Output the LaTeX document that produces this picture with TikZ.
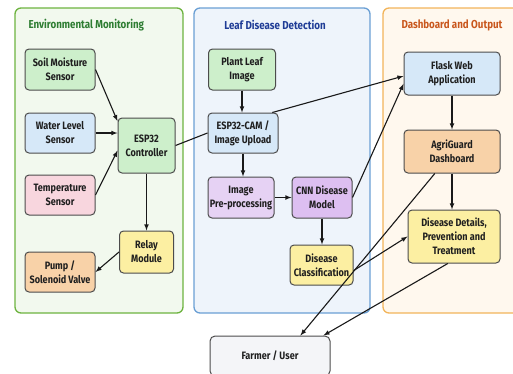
\documentclass[tikz,border=0pt]{standalone}
\usepackage{fontspec}
\setmainfont{Fira Sans}[FakeStretch=0.85]
\usepackage{xcolor}
\usepackage{tikz}
\usetikzlibrary{shapes,arrows,positioning,calc}

\definecolor{envline}{HTML}{6DB33F}
\definecolor{envfill}{HTML}{F2F9EE}
\definecolor{leafline}{HTML}{6A9FD4}
\definecolor{leaffill}{HTML}{EEF4FB}
\definecolor{dashline}{HTML}{F2B45A}
\definecolor{dashfill}{HTML}{FFF8EE}
\definecolor{envtitle}{HTML}{2E7D32}
\definecolor{leaftitle}{HTML}{1F3C96}
\definecolor{dashtitle}{HTML}{C9571D}
\definecolor{greenbox}{HTML}{CDEFCB}
\definecolor{bluebox}{HTML}{D6E8F8}
\definecolor{pinkbox}{HTML}{F8D6DE}
\definecolor{yellowbox}{HTML}{FCEFA2}
\definecolor{orangebox}{HTML}{F8D2A8}
\definecolor{purplebox}{HTML}{E6D2F4}
\definecolor{violetbox}{HTML}{DDBFF1}
\definecolor{userbox}{HTML}{F4F5F8}

\begin{document}
\begin{tikzpicture}[x=1pt, y=-1pt,
    panel/.style={rounded corners=6pt, line width=1.3pt},
    box/.style={draw=black!70, line width=1pt, rounded corners=4pt, align=center,
      text=black!88, inner sep=1pt, font=\bfseries\fontsize{10.7}{14}\selectfont},
    ttl/.style={font=\bfseries\fontsize{11.5}{13}\selectfont},
    arr/.style={-latex, line width=1.1pt, black!90}]
        \useasboundingbox (0,0) rectangle (513,373);
        \clip (0,0) rectangle (513,373);

        % Panels
        \draw[panel, draw=envline, fill=envfill] (15,8) rectangle (183,313);
        \draw[panel, draw=leafline, fill=leaffill] (194,8) rectangle (370,313);
        \draw[panel, draw=dashline, fill=dashfill] (383,8) rectangle (540,313);
        \node[ttl, text=envtitle, anchor=west] (envt) at (25,25) {Environmental Monitoring};
        \node[ttl, text=leaftitle] (leaft) at (275,25) {Leaf Disease Detection};
        \node[ttl, text=dashtitle] (dasht) at (452,25) {Dashboard and Output};

        % Environmental monitoring
        \node[box, fill=greenbox, minimum width=70pt, minimum height=41pt] (soil) at (60,69.5) {Soil Moisture\\Sensor};
        \node[box, fill=bluebox, minimum width=70pt, minimum height=40pt] (water) at (60,133) {Water Level\\Sensor};
        \node[box, fill=pinkbox, minimum width=70pt, minimum height=40pt] (temp) at (60,195) {Temperature\\Sensor};
        \node[box, fill=greenbox, minimum width=57pt, minimum height=55pt] (esp) at (146.5,145.5) {ESP32\\Controller};
        \node[box, fill=yellowbox, minimum width=54pt, minimum height=42pt] (relay) at (146.5,252) {Relay\\Module};
        \node[box, fill=orangebox, minimum width=70pt, minimum height=40pt] (pump) at (60,272) {Pump /\\Solenoid Valve};

        % Leaf disease detection
        \node[box, fill=greenbox, minimum width=67pt, minimum height=41pt] (leaf) at (242,69.5) {Plant Leaf\\Image};
        \node[box, fill=bluebox, minimum width=70pt, minimum height=40pt] (cam) at (243,133) {ESP32-CAM /\\Image Upload};
        \node[box, fill=purplebox, minimum width=66pt, minimum height=41pt] (pre) at (241,197.5) {Image\\Pre-processing};
        \node[box, fill=violetbox, minimum width=60pt, minimum height=41pt] (cnn) at (322,197.5) {CNN Disease\\Model};
        \node[box, fill=yellowbox, minimum width=63pt, minimum height=40pt] (cls) at (321.5,265) {Disease\\Classification};

        % Dashboard and output
        \node[box, fill=bluebox, minimum width=96pt, minimum height=43pt] (flask) at (452,73.5) {Flask Web\\Application};
        \node[box, fill=orangebox, minimum width=96pt, minimum height=43pt] (agri) at (452,151.5) {AgriGuard\\Dashboard};
        \node[box, fill=yellowbox, minimum width=92pt, minimum height=53pt] (details) at (454,236.5) {Disease Details,\\Prevention and\\Treatment};

        % User
        \node[box, fill=userbox, minimum width=120pt, minimum height=40pt, rounded corners=5pt] (user) at (270,356) {Farmer / User};

        % Connectors
        \draw[arr] (soil.east) -- (esp.140);
        \draw[arr] (water.east) -- (water.east -| esp.west);
        \draw[arr] (temp.east) -- (esp.190);
        \draw[arr] (esp.south) -- (relay.north);
        \draw[arr] (relay.west) -- (pump.east);
        \draw[line width=1.1pt, black!90] (esp.east) -- (cam.west);
        \draw[arr] (leaf.south) -- (leaf.south |- cam.north);
        \draw[arr] (cam.south) -- (cam.south |- pre.north);
        \draw[arr] (pre.east) -- (cnn.west);
        \draw[arr] (cnn.south) -- (cnn.south |- cls.north);
        \draw[arr] (cam.35) -- (flask.183);
        \draw[arr] (cnn.east) -- (flask.192);
        \draw[arr] (flask.south) -- (agri.north);
        \draw[arr] (agri.south) -- (agri.south |- details.north);
        \draw[arr] (cls.-10) -- (details.west);
        \draw[arr] (agri.232) -- (user.34);
        \draw[arr] (details.257) -- (user.21);
\end{tikzpicture}
\end{document}
